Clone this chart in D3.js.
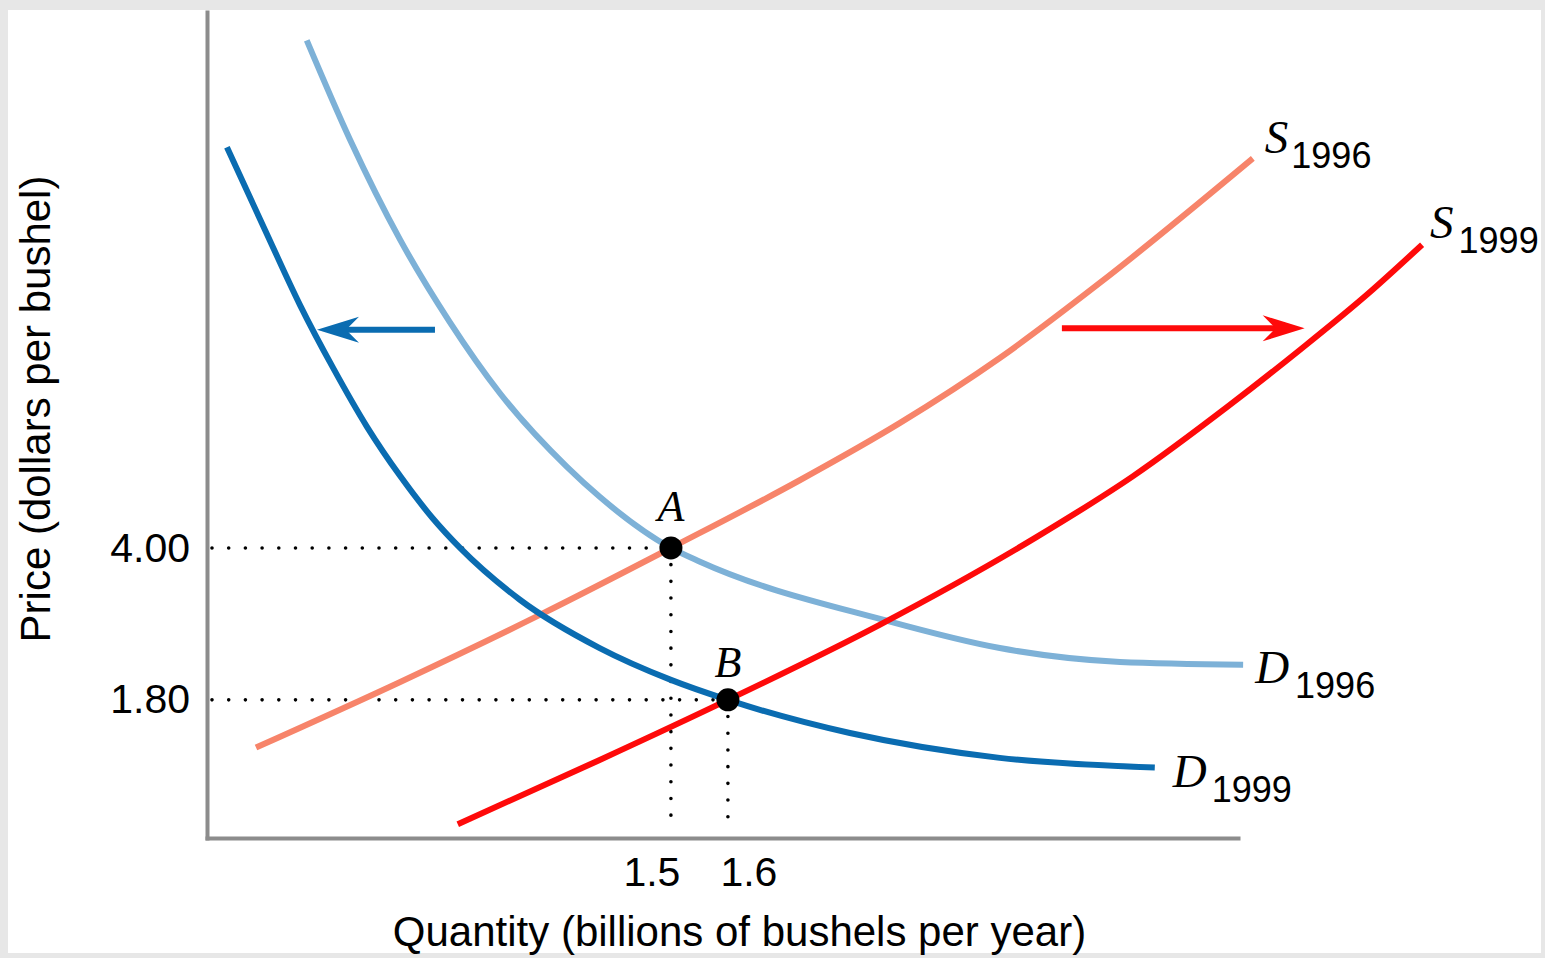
<!DOCTYPE html>
<html>
<head>
<meta charset="utf-8">
<script src="https://cdn.jsdelivr.net/npm/d3@7"></script>
<style>
  html, body { margin: 0; padding: 0; background: #fff; }
  svg { display: block; }
</style>
</head>
<body>
<svg id="chart" width="1545" height="958"></svg>
<script>
// ---------- DATA (quantity in billions of bushels, price in $ per bushel) ----------
const demand1996 = [[0.861,11.35],[0.937,9.91],[1.025,8.46],[1.112,7.27],[1.200,6.24],[1.318,5.17],[1.375,4.74],[1.5,4.00],[1.551,3.80],[1.872,2.96],[2.077,2.55],[2.288,2.35],[2.504,2.31]];
const demand1999 = [[0.721,9.80],[0.788,8.60],[0.849,7.52],[0.907,6.61],[0.967,5.75],[1.025,5.04],[1.082,4.43],[1.130,4.00],[1.235,3.25],[1.375,2.55],[1.5,2.09],[1.6,1.80],[1.814,1.32],[2.077,0.96],[2.349,0.82]];
const supply1996 = [[0.772,1.11],[1.025,2.06],[1.270,3.03],[1.5,4.00],[1.726,4.98],[1.902,5.81],[2.077,6.75],[2.253,7.84],[2.521,9.64]];
const supply1999 = [[1.126,0.0],[1.375,0.93],[1.6,1.80],[1.867,2.89],[2.142,4.16],[2.311,5.04],[2.479,6.06],[2.604,6.87],[2.723,7.68],[2.818,8.39]];
const equilibria = [{name:"A", q:1.5, p:4.00}, {name:"B", q:1.6, p:1.80}];
const priceTicks = [4.00, 1.80];
const quantityTicks = [1.5, 1.6];
const shiftDemand = [[1.086,7.16],[0.879,7.16]];
const shiftSupply = [[2.186,7.18],[2.612,7.18]];
const quantityDomain = [0.686, 2.495];
const priceDomain = [-0.2, 11.76];
const xTitle = "Quantity (billions of bushels per year)";
const yTitle = "Price (dollars per bushel)";

// ---------- LAYOUT ----------
const W = 1545, H = 958;
const plot = {left: 207, right: 1238, top: 12, bottom: 838};
const sans = "'Liberation Sans', Arial, Helvetica, sans-serif";
const serif = "'Liberation Serif', 'Times New Roman', serif";
const colors = {d1996:"#7db1d7", d1999:"#0a6cb1", s1996:"#f7846a", s1999:"#fe0a0a", axis:"#8c8c8c"};

const svg = d3.select("#chart");
// frame
svg.append("rect").attr("width", W).attr("height", H).attr("fill", "#e7e7e7");
svg.append("rect").attr("x", 8).attr("y", 10).attr("width", 1533).attr("height", 943).attr("fill", "#fff");

const x = d3.scaleLinear().domain(quantityDomain).range([plot.left, plot.right]);
const y = d3.scaleLinear().domain(priceDomain).range([plot.bottom, plot.top]);

// axes
const yAxis = svg.append("g").attr("transform", `translate(${plot.left},0)`)
  .call(d3.axisLeft(y).tickValues(priceTicks).tickFormat(d3.format(".2f")).tickSize(0).tickSizeOuter(0).tickPadding(17));
const xAxis = svg.append("g").attr("transform", `translate(0,${plot.bottom})`)
  .call(d3.axisBottom(x).tickValues(quantityTicks).tickFormat(d3.format(".1f")).tickSize(0).tickSizeOuter(0).tickPadding(19));
[xAxis, yAxis].forEach(g => {
  g.select(".domain").attr("stroke", colors.axis).attr("stroke-width", 4).attr("stroke-linecap", "square");
  g.selectAll("text").attr("font-family", sans).attr("font-size", 41).attr("fill", "#000");
});
xAxis.selectAll(".tick text")
  .attr("text-anchor", (d, i) => i === 0 ? "end" : "start")
  .attr("x", (d, i) => i === 0 ? 9 : -8);

// axis titles
svg.append("text").attr("x", (x(quantityDomain[0]) + x(quantityDomain[1])) / 2 + 17).attr("y", 946)
  .attr("text-anchor", "middle").attr("font-family", sans).attr("font-size", 42).attr("fill", "#000").text(xTitle);
svg.append("text").attr("transform", `translate(50,${409}) rotate(-90)`)
  .attr("text-anchor", "middle").attr("font-family", sans).attr("font-size", 42).attr("fill", "#000").text(yTitle);

// dotted guide lines
const dotted = svg.append("g").attr("stroke", "#000").attr("stroke-width", 3.6)
  .attr("stroke-linecap", "round").attr("stroke-dasharray", "0,16.7").attr("fill", "none");
equilibria.forEach(e => {
  dotted.append("line").attr("x1", plot.left + 5).attr("x2", x(e.q)).attr("y1", y(e.p)).attr("y2", y(e.p));
  dotted.append("line").attr("x1", x(e.q)).attr("x2", x(e.q)).attr("y1", y(e.p)).attr("y2", plot.bottom - 12);
});

// curves
const line = d3.line().x(d => x(d[0])).y(d => y(d[1])).curve(d3.curveMonotoneX);
const curves = [
  {data: demand1996, color: colors.d1996},
  {data: supply1996, color: colors.s1996},
  {data: demand1999, color: colors.d1999},
  {data: supply1999, color: colors.s1999}
];
svg.append("g").selectAll("path").data(curves).join("path")
  .attr("d", c => line(c.data)).attr("fill", "none")
  .attr("stroke", c => c.color).attr("stroke-width", 6);

// shift arrows
function arrow(pts, color) {
  const x0 = x(pts[0][0]), y0 = y(pts[0][1]), x1 = x(pts[1][0]);
  const dir = Math.sign(x1 - x0);
  const g = svg.append("g").attr("fill", color);
  g.append("line").attr("x1", x0).attr("y1", y0).attr("x2", x1 - dir * 24).attr("y2", y0)
    .attr("stroke", color).attr("stroke-width", 6);
  const p = d3.path();
  p.moveTo(x1, y0);
  p.lineTo(x1 - dir * 42, y0 - 13);
  p.lineTo(x1 - dir * 29, y0);
  p.lineTo(x1 - dir * 42, y0 + 13);
  p.closePath();
  g.append("path").attr("d", p.toString());
}
arrow(shiftDemand, colors.d1999);
arrow(shiftSupply, colors.s1999);

// equilibrium points
svg.append("g").selectAll("circle").data(equilibria).join("circle")
  .attr("cx", d => x(d.q)).attr("cy", d => y(d.p)).attr("r", 11.5).attr("fill", "#000");
const pointLabelOffset = {A: -27, B: -23};
svg.append("g").selectAll("text").data(equilibria).join("text")
  .attr("x", d => x(d.q)).attr("y", d => y(d.p) + pointLabelOffset[d.name])
  .attr("text-anchor", "middle").attr("font-family", serif).attr("font-style", "italic")
  .attr("font-size", 44).attr("fill", "#000").text(d => d.name);

// curve labels
const curveLabels = [
  {letter: "S", sub: "1996", data: supply1996, dx: 12, dy: -5, sdx: 3},
  {letter: "S", sub: "1999", data: supply1999, dx: 8, dy: -7, sdx: 5},
  {letter: "D", sub: "1996", data: demand1996, dx: 12, dy: 18, sdx: 6},
  {letter: "D", sub: "1999", data: demand1999, dx: 18, dy: 19, sdx: 5}
];
curveLabels.forEach(l => {
  const end = l.data[l.data.length - 1];
  const t = svg.append("text").attr("x", x(end[0]) + l.dx).attr("y", y(end[1]) + l.dy).attr("fill", "#000");
  t.append("tspan").attr("font-family", serif).attr("font-style", "italic").attr("font-size", 47).text(l.letter);
  t.append("tspan").attr("font-family", sans).attr("font-size", 36).attr("dx", l.sdx).attr("dy", 15).text(l.sub);
});
</script>
</body>
</html>
